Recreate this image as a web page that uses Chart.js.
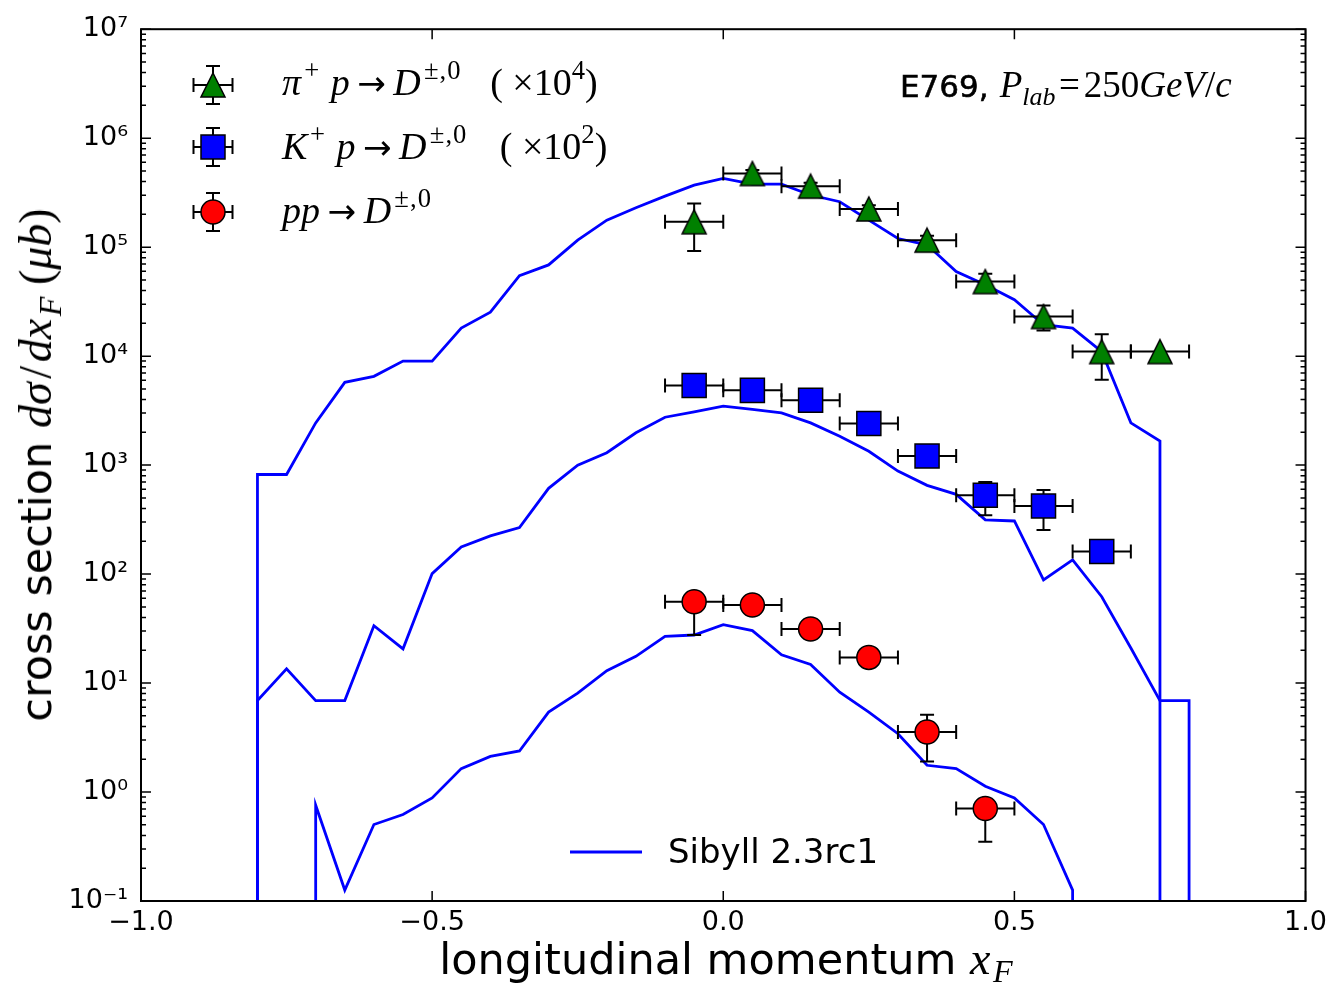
<!DOCTYPE html>
<html>
<head>
<meta charset="utf-8">
<script src="https://cdn.jsdelivr.net/npm/chart.js@4.4.1/dist/chart.umd.min.js"></script>
<style>
html, body { margin: 0; padding: 0; background: #fff; }
#wrap { position: relative; width: 1333px; height: 987px; overflow: hidden; }
#plot { position: absolute; left: 0; top: 0; width: 1333px; height: 987px; }
.txt { position: absolute; white-space: nowrap; line-height: 1; color: #000; }
.sans { font-family: 'DejaVu Sans', sans-serif; }
.m { font-family: 'Liberation Serif', serif; }
.i { font-style: italic; }
.sup { font-size: 70%; position: relative; top: -0.6em; }
.sub { font-size: 70%; position: relative; top: 0.32em; }
.arr { font-family: 'DejaVu Sans', sans-serif; font-size: 90%; margin: 0 0.22em; }
.mult { margin-left: 0.75em; }
</style>
</head>
<body>
<div id="wrap">
<canvas id="plot" width="1333" height="987"></canvas>

<div class="txt m" style="left:282px; top:63px; font-size:38px;"><span class="i">π</span><span class="sup" style="margin-left:0.12em;">+</span><span class="i" style="margin-left:0.3em;">p</span><span class="arr">→</span><span class="i">D</span><span class="sup" style="margin-left:0.12em; letter-spacing:0.04em;">±,0</span><span class="mult">(&nbsp;×10<span class="sup">4</span>)</span></div>
<div class="txt m" style="left:282px; top:127px; font-size:38px;"><span class="i">K</span><span class="sup" style="margin-left:0.1em;">+</span><span class="i" style="margin-left:0.3em;">p</span><span class="arr">→</span><span class="i">D</span><span class="sup" style="margin-left:0.12em; letter-spacing:0.04em;">±,0</span><span class="mult" style="margin-left:0.85em;">(&nbsp;×10<span class="sup">2</span>)</span></div>
<div class="txt m" style="left:282px; top:191px; font-size:38px;"><span class="i">pp</span><span class="arr">→</span><span class="i">D</span><span class="sup" style="margin-left:0.12em; letter-spacing:0.04em;">±,0</span></div>

<div class="txt" style="left:900px; top:66px;"><span class="sans" style="font-size:31px; -webkit-text-stroke:0.6px #000;">E769,</span><span class="m" style="font-size:37px; margin-left:0.3em;"><span class="i">P</span><span class="sub i">lab</span><span style="margin:0 0.1em;">=</span>250<span class="i">GeV</span>/<span class="i">c</span></span></div>

<div class="txt sans" style="left:668px; top:834px; font-size:34px;">Sibyll 2.3rc1</div>

<div class="txt" style="left:726px; top:936px; transform:translateX(-50%);"><span class="sans" style="font-size:43px;">longitudinal momentum </span><span class="m i" style="font-size:46px;">x<span class="sub" style="margin-left:0.08em; top:0.26em;">F</span></span></div>

<div class="txt" style="left:36px; top:465px; transform:translate(-50%,-50%) rotate(-90deg);"><span class="sans" style="font-size:43px;">cross section </span><span class="m" style="font-size:46px;"><span class="i">dσ</span><span style="margin:0 0.08em;">/</span><span class="i">dx<span class="sub" style="margin-left:0.08em;">F</span></span>&nbsp;(<span class="i">μb</span>)</span></div>
</div>

<script>
// Sibyll 2.3rc1 histograms; 0.01 marks the drop to zero (below the axis)
var sibPiX = [-0.80, -0.80, -0.75, -0.70, -0.65, -0.60, -0.55, -0.50, -0.45, -0.40, -0.35, -0.30, -0.25, -0.20, -0.15, -0.10, -0.05,
              0.00, 0.05, 0.10, 0.15, 0.20, 0.25, 0.30, 0.35, 0.40, 0.45, 0.50, 0.55, 0.60, 0.65, 0.70, 0.75, 0.75];
var sibPiY = [0.01, 820, 820, 2440, 5750, 6530, 9010, 9010, 18100, 25300, 54800, 68700, 116000, 177000, 230000, 294000, 371000,
              427000, 378000, 378000, 301000, 261000, 177000, 120000, 105000, 59700, 45100, 32900, 19400, 18100, 11000, 2440, 1660, 0.01];

var sibKX = [-0.80, -0.80, -0.75, -0.70, -0.65, -0.60, -0.55, -0.50, -0.45, -0.40, -0.35, -0.30, -0.25, -0.20, -0.15, -0.10, -0.05,
             0.00, 0.05, 0.10, 0.15, 0.20, 0.25, 0.30, 0.35, 0.40, 0.45, 0.50, 0.55, 0.60, 0.65, 0.70, 0.75, 0.80, 0.80];
var sibKY = [0.01, 6.9, 13.5, 6.9, 6.9, 33.6, 20.6, 101, 177, 224, 267, 612, 1000, 1300, 1980, 2750, 3080,
             3470, 3240, 3010, 2440, 1840, 1340, 881, 652, 539, 314, 307, 88.5, 135, 62, 21, 6.9, 6.9, 0.01];

var sibPX = [-0.70, -0.70, -0.65, -0.60, -0.55, -0.50, -0.45, -0.40, -0.35, -0.30, -0.25, -0.20, -0.15, -0.10, -0.05,
             0.00, 0.05, 0.10, 0.15, 0.20, 0.25, 0.30, 0.35, 0.40, 0.45, 0.50, 0.55, 0.60, 0.60];
var sibPY = [0.01, 0.757, 0.126, 0.503, 0.621, 0.883, 1.64, 2.12, 2.38, 5.41, 8.07, 13.0, 17.6, 26.8, 27.6,
             34.3, 30.3, 18.2, 14.8, 8.24, 5.41, 3.43, 1.76, 1.64, 1.13, 0.883, 0.503, 0.126, 0.01];

// E769 data, bin half width 0.05
var binHalf = 0.05;
var piX  = [-0.05, 0.05, 0.15, 0.25, 0.35, 0.45, 0.55, 0.65, 0.75];
var piY  = [171000, 474000, 363000, 224000, 116000, 48300, 23100, 11000, 11000];
var piLo = [92300, 440000, 340000, 205000, 106000, 42000, 17200, 6080, 11000];
var piHi = [252000, 510000, 390000, 243000, 127000, 56900, 29100, 15900, 11000];

var kX  = [-0.05, 0.05, 0.15, 0.25, 0.35, 0.45, 0.55, 0.65];
var kY  = [5370, 4850, 3940, 2410, 1210, 528, 421, 161];
var kLo = [5100, 4600, 3750, 2300, 1150, 347, 254, 155];
var kHi = [5650, 5100, 4150, 2520, 1270, 698, 590, 168];

var pX  = [-0.05, 0.05, 0.15, 0.25, 0.35, 0.45];
var pY  = [55.7, 52.0, 31.3, 17.2, 3.55, 0.705];
var pLo = [27.6, 49, 29.5, 16.2, 1.91, 0.349];
var pHi = [60, 55, 33, 18.2, 5.12, 0.75];

var xTicks = [-1.0, -0.5, 0.0, 0.5, 1.0];
var yDecades = [-1, 0, 1, 2, 3, 4, 5, 6, 7];

function pts(xs, ys) {
    return xs.map(function (x, i) { return {x: x, y: ys[i]}; });
}

var supMap = {'-': '⁻', '0': '⁰', '1': '¹', '2': '²', '3': '³', '4': '⁴', '5': '⁵', '6': '⁶', '7': '⁷', '8': '⁸', '9': '⁹'};
function powLabel(v) {
    var e = String(Math.round(Math.log10(v)));
    return '10' + e.split('').map(function (c) { return supMap[c]; }).join('');
}

// matplotlib-like "^" marker
var tri = document.createElement('canvas');
tri.width = 28; tri.height = 28;
(function () {
    var c = tri.getContext('2d');
    c.beginPath();
    c.moveTo(14, 2); c.lineTo(26, 26); c.lineTo(2, 26); c.closePath();
    c.fillStyle = '#008000'; c.fill();
    c.lineWidth = 1.5; c.strokeStyle = '#000'; c.stroke();
})();

var capHalf = 7;

function drawErr(c, x0, x1, y, y0, y1, px) {
    c.beginPath();
    c.moveTo(x0, y); c.lineTo(x1, y);
    c.moveTo(x0, y - capHalf); c.lineTo(x0, y + capHalf);
    c.moveTo(x1, y - capHalf); c.lineTo(x1, y + capHalf);
    if (y0 !== y1) {
        c.moveTo(px, y0); c.lineTo(px, y1);
        c.moveTo(px - capHalf, y0); c.lineTo(px + capHalf, y0);
        c.moveTo(px - capHalf, y1); c.lineTo(px + capHalf, y1);
    }
    c.stroke();
}

var errorBars = {
    id: 'errorBars',
    beforeDatasetDraw: function (chart, args) {
        var ds = chart.data.datasets[args.index];
        if (!ds.errLo) return;
        var xs = chart.scales.x, ys = chart.scales.y, c = chart.ctx;
        c.save();
        c.strokeStyle = '#000';
        c.lineWidth = 2;
        ds.data.forEach(function (p, i) {
            var px = xs.getPixelForValue(p.x);
            drawErr(c, xs.getPixelForValue(p.x - binHalf), xs.getPixelForValue(p.x + binHalf),
                ys.getPixelForValue(p.y), ys.getPixelForValue(ds.errLo[i]), ys.getPixelForValue(ds.errHi[i]), px);
        });
        c.restore();
    }
};

var frameAndLegend = {
    id: 'frameAndLegend',
    afterDraw: function (chart) {
        var a = chart.chartArea, c = chart.ctx, xs = chart.scales.x, ys = chart.scales.y;
        c.save();
        c.strokeStyle = '#000';
        c.lineWidth = 1.5;
        c.beginPath();
        // inward ticks on all four sides
        xTicks.forEach(function (v) {
            var px = xs.getPixelForValue(v);
            c.moveTo(px, a.bottom); c.lineTo(px, a.bottom - 10);
            c.moveTo(px, a.top); c.lineTo(px, a.top + 10);
        });
        yDecades.forEach(function (e) {
            for (var m = 1; m <= 9; m++) {
                if (e === 7 && m > 1) break;
                var py = ys.getPixelForValue(m * Math.pow(10, e));
                var len = m === 1 ? 10 : 5;
                c.moveTo(a.left, py); c.lineTo(a.left + len, py);
                c.moveTo(a.right, py); c.lineTo(a.right - len, py);
            }
        });
        c.stroke();
        c.lineWidth = 2;
        c.strokeRect(a.left, a.top, a.right - a.left, a.bottom - a.top);

        // legend symbols
        c.lineWidth = 2;
        var lx = 213, rows = [85, 147, 212];
        rows.forEach(function (ry) {
            drawErr(c, lx - 19.5, lx + 19.5, ry, ry - 19, ry + 19, lx);
        });
        c.drawImage(tri, lx - 14, rows[0] - 14);
        c.lineWidth = 1.5;
        c.fillStyle = '#0000ff';
        c.fillRect(lx - 12, rows[1] - 12, 24, 24);
        c.strokeRect(lx - 12, rows[1] - 12, 24, 24);
        c.beginPath();
        c.arc(lx, rows[2], 12, 0, 2 * Math.PI);
        c.fillStyle = '#ff0000';
        c.fill();
        c.stroke();

        c.strokeStyle = '#0000ff';
        c.lineWidth = 2.8;
        c.beginPath();
        c.moveTo(570, 852); c.lineTo(642, 852);
        c.stroke();
        c.restore();
    }
};

function sibyll(xs, ys) {
    return {
        data: pts(xs, ys), showLine: true, borderColor: '#0000ff', borderWidth: 2.8,
        pointRadius: 0, fill: false, tension: 0, order: 2
    };
}

Chart.defaults.font.family = "'DejaVu Sans', sans-serif";
Chart.defaults.color = '#000';

var ctx = document.getElementById('plot').getContext('2d');
var chart = new Chart(ctx, {
    type: 'scatter',
    data: {
        datasets: [
            sibyll(sibPiX, sibPiY),
            sibyll(sibKX, sibKY),
            sibyll(sibPX, sibPY),
            {
                data: pts(piX, piY), errLo: piLo, errHi: piHi, pointStyle: tri,
                pointRadius: 14, order: 1
            },
            {
                data: pts(kX, kY), errLo: kLo, errHi: kHi, pointStyle: 'rect', pointRadius: 17,
                pointBackgroundColor: '#0000ff', pointBorderColor: '#000', pointBorderWidth: 1.5, order: 1
            },
            {
                data: pts(pX, pY), errLo: pLo, errHi: pHi, pointStyle: 'circle', pointRadius: 12,
                pointBackgroundColor: '#ff0000', pointBorderColor: '#000', pointBorderWidth: 1.5, order: 1
            }
        ]
    },
    options: {
        responsive: false,
        animation: false,
        events: [],
        devicePixelRatio: 1,
        layout: { padding: { top: 27, right: 27, left: 0, bottom: 0 } },
        plugins: { legend: { display: false }, tooltip: { enabled: false } },
        scales: {
            x: {
                type: 'linear', min: -1, max: 1,
                grid: { display: false, drawTicks: false },
                border: { display: false },
                afterBuildTicks: function (s) { s.ticks = xTicks.map(function (v) { return {value: v}; }); },
                ticks: {
                    padding: 6, font: { size: 27 }, maxRotation: 0, autoSkip: false,
                    callback: function (v) { return (v < 0 ? '−' : '') + Math.abs(v).toFixed(1); }
                },
                afterFit: function (s) { s.height = 86; }
            },
            y: {
                type: 'logarithmic', min: 0.1, max: 1e7,
                grid: { display: false, drawTicks: false },
                border: { display: false },
                afterBuildTicks: function (s) { s.ticks = yDecades.map(function (e) { return {value: Math.pow(10, e), major: true}; }); },
                ticks: { padding: 13, font: { size: 27 }, autoSkip: false, callback: function (v) { return powLabel(v); } },
                afterFit: function (s) { s.width = 141; }
            }
        }
    },
    plugins: [errorBars, frameAndLegend]
});
</script>
</body>
</html>
